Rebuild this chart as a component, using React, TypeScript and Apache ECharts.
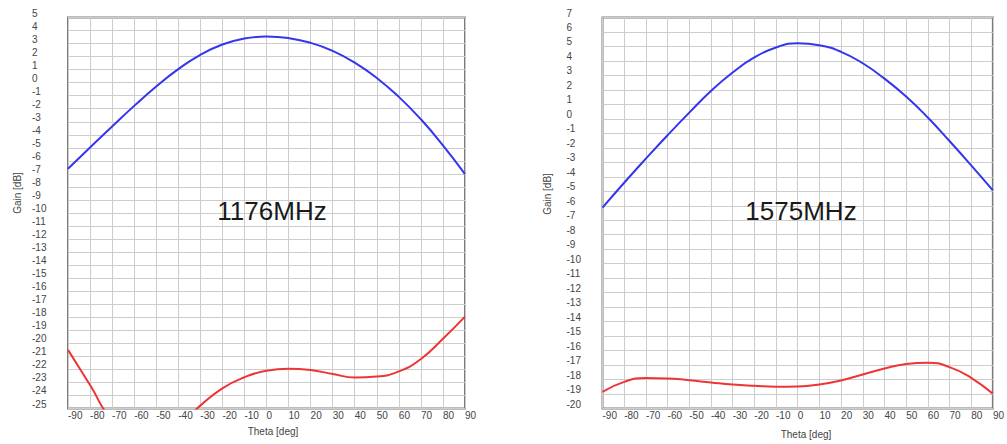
import React, { useEffect, useRef } from "react";
import * as echarts from "echarts";

const thetaDeg = [-90, -80, -70, -60, -50, -40, -30, -20, -10, 0, 10, 20, 30, 40, 50, 60, 70, 80, 90];

// 1176 MHz
const gain1176Blue = [-6.6, -4.97, -3.36, -1.78, -0.29, 1.04, 2.14, 2.93, 3.39, 3.54, 3.42, 3.06, 2.44, 1.54, 0.36, -1.09, -2.81, -4.81, -7.02];
const gain1176Red = [-20.5, -23.2, -25.9, -27.0, -27.1, -26.3, -24.78, -23.45, -22.6, -22.1, -21.95, -22.05, -22.35, -22.62, -22.55, -22.15, -21.2, -19.65, -17.95];

// 1575 MHz
const gain1575Blue = [-6.13, -4.41, -2.75, -1.13, 0.43, 1.93, 3.2, 4.24, 4.93, 5.23, 5.09, 4.63, 3.84, 2.78, 1.54, 0.09, -1.53, -3.21, -4.94];
const gain1575Red = [-18.85, -18.16, -17.9, -17.92, -18.05, -18.2, -18.34, -18.43, -18.5, -18.48, -18.34, -18.06, -17.65, -17.24, -16.93, -16.84, -17.14, -17.88, -18.99];

const chartTitles = ["1176MHz", "1575MHz"];
const yRanges = [
  { min: -25, max: 5 },
  { min: -20, max: 7 },
];
const xAxisTitle = "Theta [deg]";
const yAxisTitle = "Gain [dB]";

const FONT = "'Liberation Sans', Arial, sans-serif";

export default function App() {
  const ref = useRef<HTMLDivElement>(null);
  useEffect(() => {
    const chart = echarts.init(ref.current!, undefined, { renderer: "svg" });
    const grids = [
      { left: 68, top: 17.5, width: 397, height: 391 },
      { left: 602.5, top: 17.5, width: 396.5, height: 391 },
    ];
    const xAxes = grids.map((_, i) => ({
      type: "value",
      gridIndex: i,
      min: -90,
      max: 90,
      interval: 10,
      axisLine: { show: false },
      axisTick: { show: false },
      axisLabel: { align: "left", margin: 2, fontSize: 10, color: "#444", fontFamily: FONT },
      splitLine: { show: true, lineStyle: { color: "#cdcdcd", width: 1 } },
    }));
    const yAxes = grids.map((_, i) => ({
      type: "value",
      gridIndex: i,
      min: yRanges[i].min,
      max: yRanges[i].max,
      interval: 1,
      axisLine: { show: false },
      axisTick: { show: false },
      axisLabel: {
        align: "left",
        verticalAlign: "bottom",
        lineHeight: 9,
        margin: 36,
        fontSize: 10,
        color: "#444",
        fontFamily: FONT,
        showMinLabel: true,
        showMaxLabel: true,
      },
      splitLine: { show: true, lineStyle: { color: "#cdcdcd", width: 1 } },
    }));
    const mk = (data: number[], idx: number, color: string) => ({
      type: "line",
      xAxisIndex: idx,
      yAxisIndex: idx,
      data: thetaDeg.map((t, k) => [t, data[k]]),
      smooth: 0.5,
      showSymbol: false,
      clip: true,
      lineStyle: { color, width: 2 },
    });
    chart.setOption({
      animation: false,
      backgroundColor: "#ffffff",
      grid: grids.map((g) => ({
        ...g,
        show: true,
        backgroundColor: "#ffffff",
        borderColor: "#7a7a7a",
        borderWidth: 2,
        containLabel: false,
      })),
      xAxis: xAxes,
      yAxis: yAxes,
      series: [
        mk(gain1176Blue, 0, "#3535ee"),
        mk(gain1176Red, 0, "#ee3535"),
        mk(gain1575Blue, 1, "#3535ee"),
        mk(gain1575Red, 1, "#ee3535"),
      ],
      graphic: [
        { type: "text", x: 272, y: 211, z: 10, style: { text: chartTitles[0], fontSize: 26, fontFamily: FONT, fill: "#1a1a1a", align: "center", verticalAlign: "middle" } },
        { type: "text", x: 801, y: 211, z: 10, style: { text: chartTitles[1], fontSize: 26, fontFamily: FONT, fill: "#1a1a1a", align: "center", verticalAlign: "middle" } },
        { type: "text", x: 273, y: 431, style: { text: xAxisTitle, fontSize: 10, fontFamily: FONT, fill: "#444", align: "center", verticalAlign: "middle" } },
        { type: "text", x: 806, y: 434, style: { text: xAxisTitle, fontSize: 10, fontFamily: FONT, fill: "#444", align: "center", verticalAlign: "middle" } },
        { type: "text", x: 17, y: 193, rotation: Math.PI / 2, style: { text: yAxisTitle, fontSize: 10, fontFamily: FONT, fill: "#444", align: "center", verticalAlign: "middle" } },
        { type: "text", x: 547, y: 194, rotation: Math.PI / 2, style: { text: yAxisTitle, fontSize: 10, fontFamily: FONT, fill: "#444", align: "center", verticalAlign: "middle" } },
      ],
    });
    return () => chart.dispose();
  }, []);
  return (
    <div
      ref={ref}
      style={{ position: "fixed", left: 0, top: 0, width: 1007, height: 444, background: "#fff" }}
    />
  );
}
